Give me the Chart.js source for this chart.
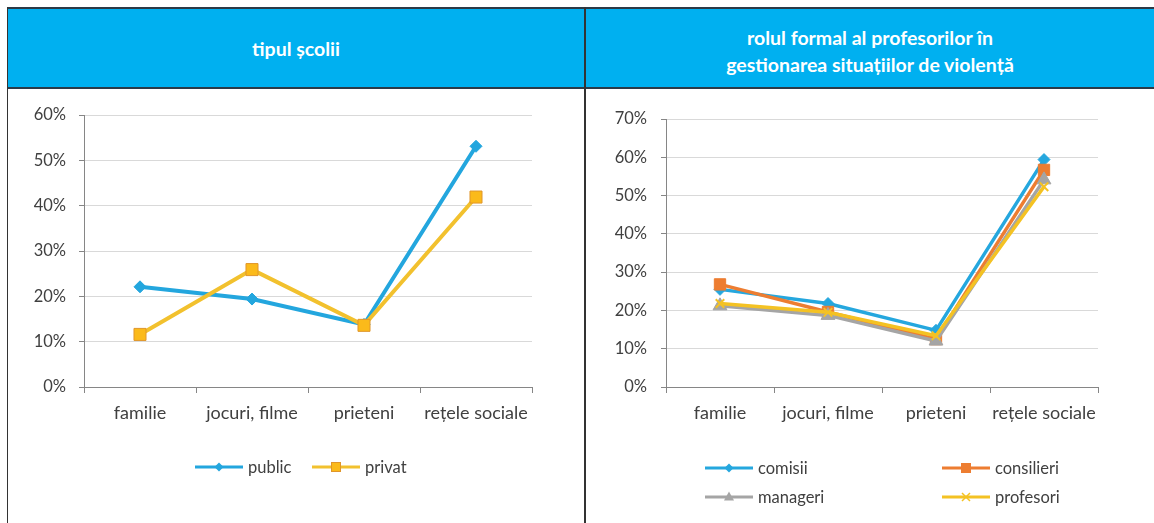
<!DOCTYPE html>
<html><head><meta charset="utf-8">
<script src="https://cdn.jsdelivr.net/npm/chart.js@4.4.1/dist/chart.umd.min.js"></script>
<style>
html,body{margin:0;padding:0;background:#fff;}
body{width:1154px;height:523px;position:relative;overflow:hidden;font-family:Lato,"Open Sans",sans-serif;}
.ab{position:absolute;}
.hdr{position:absolute;top:9px;height:78px;display:flex;align-items:center;justify-content:center;text-align:center;color:#fff;font-weight:bold;font-size:19.5px;line-height:27px;}
.leg{position:absolute;display:flex;align-items:center;font-size:16.5px;color:#404040;height:20px;white-space:nowrap;}
.leg svg{margin-right:5px;}
canvas{position:absolute;}
</style></head><body>
<div class="ab" style="left:8px;top:8px;width:1146px;height:80px;background:#00B0F0"></div>
<div class="ab" style="left:7px;top:7px;width:1147px;height:2px;background:#2b3a47"></div>
<div class="ab" style="left:7px;top:87px;width:1147px;height:2px;background:#2b3a47"></div>
<div class="ab" style="left:7px;top:7px;width:1px;height:516px;background:#333"></div>
<div class="ab" style="left:584px;top:7px;width:2px;height:516px;background:#333"></div>
<div class="hdr" style="left:8px;width:576px;">tipul școlii</div>
<div class="hdr" style="left:586px;width:568px;padding-top:5px;height:73px;">rolul formal al profesorilor în<br>gestionarea situațiilor de violență</div>
<canvas id="c1" width="575" height="433" style="left:9px;top:90px;"></canvas>
<canvas id="c2" width="568" height="433" style="left:586px;top:90px;"></canvas>
<div id="legs"></div>
<script>
// ---- data ----
const categories = ['familie', 'jocuri, filme', 'prieteni', 'rețele sociale'];
const leftTicksMax = 60;
const rightTicksMax = 70;
const publicValues = [22.1, 19.4, 13.8, 53.1];
const privatValues = [11.6, 25.9, 13.6, 41.9];
const comisiiValues = [25.5, 21.8, 14.8, 59.4];
const consilieriValues = [26.8, 19.6, 12.5, 56.7];
const manageriValues = [21.2, 18.7, 12.0, 54.1];
const profesoriValues = [21.8, 19.5, 13.4, 52.3];

const TXT = '#404040', AX = '#868686', GRID = '#D9D9D9';
const YFONT = {family: 'Lato', size: 16.5};
const XFONT = {family: 'Lato', size: 18};

function makeScales(max, yWidth, yPad) {
  return {
    x: {
      type: 'category', offset: true,
      grid: {offset: true, drawOnChartArea: false, drawTicks: true, tickLength: 6, tickColor: AX, color: AX},
      border: {color: AX, width: 1},
      ticks: {color: TXT, font: XFONT, padding: 9, maxRotation: 0, autoSkip: false},
      afterFit: s => { s.height = 40; }
    },
    y: {
      min: 0, max: max,
      grid: {color: GRID, lineWidth: 1, drawTicks: true, tickLength: 5, tickColor: AX},
      border: {color: AX, width: 1},
      ticks: {stepSize: 10, color: TXT, font: YFONT, padding: yPad, callback: v => v + '%'},
      afterFit: s => { s.width = yWidth; }
    }
  };
}

const leftSets = [
  {label: 'public', data: publicValues, borderColor: '#23A6DE', backgroundColor: '#23A6DE', borderWidth: 4,
   pointStyle: 'rectRot', pointRadius: 6, pointBackgroundColor: '#23A6DE', pointBorderColor: '#23A6DE', pointBorderWidth: 1, order: 1},
  {label: 'privat', data: privatValues, borderColor: '#F2C12E', backgroundColor: '#FFC000', borderWidth: 4,
   pointStyle: 'rect', pointRadius: 8.5, pointBackgroundColor: '#FBBA1A', pointBorderColor: '#E0962A', pointBorderWidth: 1, order: 0}
];
const rightSets = [
  {label: 'comisii', data: comisiiValues, borderColor: '#25A7DE', borderWidth: 3.5,
   pointStyle: 'rectRot', pointRadius: 6, pointBackgroundColor: '#25A7DE', pointBorderColor: '#25A7DE', pointBorderWidth: 1, order: 3},
  {label: 'consilieri', data: consilieriValues, borderColor: '#ED7D31', borderWidth: 3.5,
   pointStyle: 'rect', pointRadius: 8, pointBackgroundColor: '#ED7D31', pointBorderColor: '#ED7D31', pointBorderWidth: 1, order: 2},
  {label: 'manageri', data: manageriValues, borderColor: '#A5A5A5', borderWidth: 3.5,
   pointStyle: 'triangle', pointRadius: 8, pointBackgroundColor: '#A5A5A5', pointBorderColor: '#A5A5A5', pointBorderWidth: 1, order: 1},
  {label: 'profesori', data: profesoriValues, borderColor: '#F4C223', borderWidth: 3.5,
   pointStyle: 'crossRot', pointRadius: 6, pointBackgroundColor: '#F4C223', pointBorderColor: '#F4C223', pointBorderWidth: 2, order: 0}
];

function makeChart(id, sets, max, yWidth, yPad, padding) {
  return new Chart(document.getElementById(id), {
    type: 'line',
    data: {labels: categories, datasets: sets.map(s => Object.assign({tension: 0, fill: false}, s))},
    options: {
      responsive: false, animation: false, devicePixelRatio: 1,
      layout: {padding: padding},
      plugins: {legend: {display: false}, tooltip: {enabled: false}},
      scales: makeScales(max, yWidth, yPad)
    }
  });
}
makeChart('c1', leftSets, leftTicksMax, 75, 13, {left: 0, right: 52, top: 25, bottom: 96});
makeChart('c2', rightSets, rightTicksMax, 80, 14, {left: 0, right: 56, top: 29, bottom: 96});

// ---- HTML legends (symbols built from dataset styles) ----
function symbol(s) {
  const w = 48, h = 20, cx = 24, cy = 10, c = s.pointBackgroundColor, b = s.pointBorderColor;
  let m = '';
  if (s.pointStyle === 'rectRot') m = `<polygon points="${cx},${cy-4.5} ${cx+4.5},${cy} ${cx},${cy+4.5} ${cx-4.5},${cy}" fill="${c}"/>`;
  else if (s.pointStyle === 'rect') m = `<rect x="${cx-4.5}" y="${cy-4.5}" width="9" height="9" fill="${c}" stroke="${b}" stroke-width="1"/>`;
  else if (s.pointStyle === 'triangle') m = `<polygon points="${cx},${cy-5.5} ${cx+5},${cy+3.5} ${cx-5},${cy+3.5}" fill="${c}"/>`;
  else if (s.pointStyle === 'crossRot') m = `<path d="M${cx-4},${cy-4}L${cx+4},${cy+4}M${cx+4},${cy-4}L${cx-4},${cy+4}" stroke="${c}" stroke-width="1.5"/>`;
  return `<svg width="${w}" height="${h}"><line x1="0" y1="${cy}" x2="${w}" y2="${cy}" stroke="${s.borderColor}" stroke-width="3"/>${m}</svg>`;
}
const legPos = [
  [leftSets[0], 195, 457], [leftSets[1], 312, 457],
  [rightSets[0], 705, 458], [rightSets[1], 942, 458],
  [rightSets[2], 705, 487], [rightSets[3], 942, 487]
];
document.getElementById('legs').innerHTML = legPos.map(([s, x, y]) =>
  `<div class="leg" style="left:${x}px;top:${y}px;">${symbol(s)}<span>${s.label}</span></div>`).join('');
</script>
</body></html>
